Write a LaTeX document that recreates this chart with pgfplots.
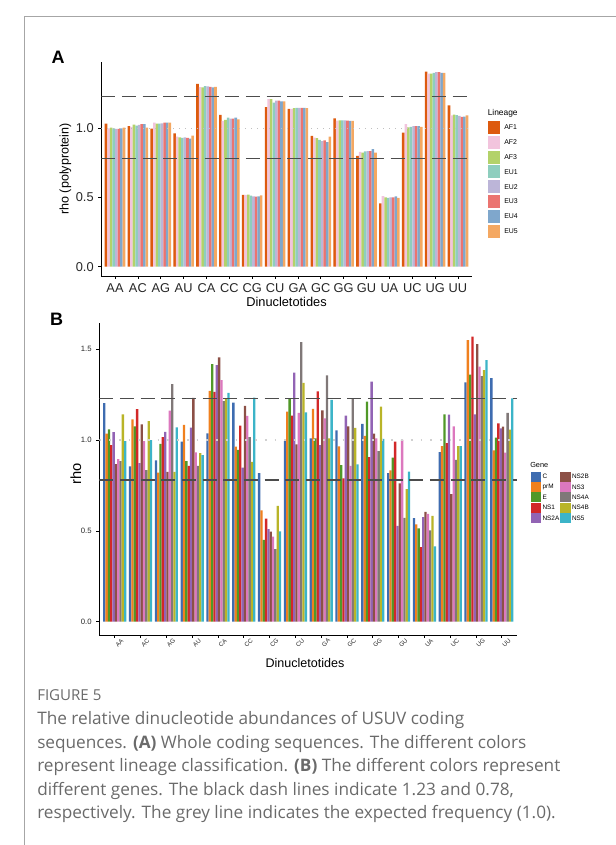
\documentclass[border=0pt]{standalone}
\usepackage{pgfplots}
\pgfplotsset{compat=1.18}
\usepackage{pgfplotstable}
\usepackage{fontspec}
\setmainfont{Liberation Sans}
\newfontfamily\capfont{Open Sans}

\definecolor{AF1}{HTML}{DD5A0E}
\definecolor{AF2}{HTML}{F2C4DD}
\definecolor{AF3}{HTML}{B3D26A}
\definecolor{EU1}{HTML}{8ECEBE}
\definecolor{EU2}{HTML}{BCB5D8}
\definecolor{EU3}{HTML}{EB7470}
\definecolor{EU4}{HTML}{7FA7CC}
\definecolor{EU5}{HTML}{F4A862}

\definecolor{gC}{HTML}{3E6CB0}
\definecolor{gprM}{HTML}{F0801E}
\definecolor{gE}{HTML}{509828}
\definecolor{gNS1}{HTML}{D22828}
\definecolor{gNS2A}{HTML}{9264B4}
\definecolor{gNS2B}{HTML}{8C5046}
\definecolor{gNS3}{HTML}{DC78BE}
\definecolor{gNS4A}{HTML}{807878}
\definecolor{gNS4B}{HTML}{B9B428}
\definecolor{gNS5}{HTML}{3CB4C8}
\definecolor{capgray}{HTML}{6A6A6A}

\pgfplotstableread{
x  AF1   AF2   AF3   EU1   EU2   EU3   EU4   EU5
0  1.034 1.000 1.005 1.000 0.995 0.995 1.000 1.005
1  1.015 1.010 1.027 1.020 1.025 1.030 1.030 1.005
2  0.998 1.040 1.034 1.034 1.035 1.040 1.040 1.040
3  0.964 0.940 0.935 0.930 0.935 0.930 0.925 0.947
4  1.320 1.297 1.295 1.305 1.303 1.300 1.295 1.300
5  1.096 1.053 1.060 1.077 1.070 1.070 1.077 1.065
6  0.518 0.518 0.520 0.513 0.508 0.506 0.508 0.515
7  1.152 1.210 1.210 1.185 1.200 1.200 1.195 1.195
8  1.140 1.140 1.145 1.147 1.147 1.147 1.147 1.145
9  0.945 0.932 0.928 0.916 0.908 0.913 0.900 0.940
10 1.072 1.055 1.057 1.057 1.057 1.055 1.053 1.053
11 0.800 0.830 0.824 0.833 0.835 0.835 0.850 0.824
12 0.458 0.510 0.500 0.497 0.500 0.500 0.508 0.497
13 0.969 1.030 1.007 1.010 1.015 1.015 1.015 1.010
14 1.410 1.395 1.395 1.400 1.405 1.405 1.400 1.400
15 1.166 1.094 1.099 1.095 1.090 1.082 1.085 1.093
}\dataA

\pgfplotstableread{
x  C     prM   E     NS1   NS2A  NS2B  NS3   NS4A  NS4B  NS5
0  1.203 1.035 1.059 0.972 1.043 0.867 0.894 0.884 1.141 0.994
1  0.855 1.114 1.075 1.170 0.872 1.086 0.994 0.834 1.104 0.999
2  0.888 0.821 0.978 1.015 1.045 0.824 1.161 1.308 0.824 1.070
3  0.991 1.083 0.884 0.857 1.068 1.231 0.932 0.857 0.927 0.917
4  1.037 1.270 1.417 1.264 1.412 1.455 1.330 1.214 1.229 1.259
5  1.206 0.963 0.945 1.079 0.848 1.187 1.132 1.015 0.879 1.233
6  0.817 0.613 0.450 0.567 0.510 0.495 0.468 0.400 0.637 0.497
7  0.994 1.156 1.229 1.134 1.371 0.976 1.149 1.538 1.314 1.152
8  1.009 1.171 1.009 1.268 0.972 1.163 1.119 1.356 1.009 1.220
9  1.053 0.965 0.862 0.789 1.134 1.075 0.857 1.226 1.066 0.866
10 1.088 1.022 1.211 0.905 1.321 1.035 1.009 0.939 1.183 1.006
11 0.817 0.833 0.903 0.991 0.527 0.761 1.000 0.572 0.730 0.826
12 0.570 0.536 0.513 0.410 0.576 0.605 0.594 0.503 0.583 0.415
13 0.933 0.966 1.141 0.982 1.140 0.702 1.075 0.890 0.966 0.966
14 1.317 1.550 1.360 1.569 1.141 1.528 1.404 1.352 1.385 1.439
15 1.341 0.943 1.013 1.092 1.064 1.073 0.930 1.149 1.057 1.229
}\dataB

\pgfplotsset{
  ggbase/.style={
    scale only axis,
    anchor=south west,
    xmin=-0.6, xmax=15.6,
    axis x line*=bottom, axis y line*=left,
    axis line style={-, black, line width=0.5pt},
    xtick={0,...,15},
    xticklabels={AA,AC,AG,AU,CA,CC,CG,CU,GA,GC,GG,GU,UA,UC,UG,UU},
    tick align=outside, major tick length=2.2pt,
    tick style={black, line width=0.5pt},
    minor tick num=0,
    /pgf/number format/assume math mode=true,
    yticklabel={\pgfmathprintnumber[fixed, fixed zerofill, precision=1]{\tick}},
  },
}

\begin{document}
\begin{tikzpicture}
\useasboundingbox (0,0) rectangle (462pt,-633.75pt);

% ---------------- Panel A ----------------
\begin{axis}[ggbase,
  at={(75.975pt,-207pt)},
  width=277.8pt, height=160.725pt,
  ymin=-0.0672, ymax=1.481,
  ytick={0,0.5,1},
  ticklabel style={font=\fontsize{9.6}{10}\selectfont, text=black!85},
]
\addplot[ybar, bar width=0.1125, bar shift=-0.39375, fill=AF1, draw=none] table[x=x,y=AF1]{\dataA};
\addplot[ybar, bar width=0.1125, bar shift=-0.28125, fill=AF2, draw=none] table[x=x,y=AF2]{\dataA};
\addplot[ybar, bar width=0.1125, bar shift=-0.16875, fill=AF3, draw=none] table[x=x,y=AF3]{\dataA};
\addplot[ybar, bar width=0.1125, bar shift=-0.05625, fill=EU1, draw=none] table[x=x,y=EU1]{\dataA};
\addplot[ybar, bar width=0.1125, bar shift=0.05625, fill=EU2, draw=none] table[x=x,y=EU2]{\dataA};
\addplot[ybar, bar width=0.1125, bar shift=0.16875, fill=EU3, draw=none] table[x=x,y=EU3]{\dataA};
\addplot[ybar, bar width=0.1125, bar shift=0.28125, fill=EU4, draw=none] table[x=x,y=EU4]{\dataA};
\addplot[ybar, bar width=0.1125, bar shift=0.39375, fill=EU5, draw=none] table[x=x,y=EU5]{\dataA};
\addplot[black!70, line width=1pt, dash pattern=on 10.5pt off 5pt] coordinates {(-0.6,1.23) (15.6,1.23)};
\addplot[black!70, line width=1pt, dash pattern=on 10.5pt off 5pt] coordinates {(-0.6,0.78) (15.6,0.78)};
\addplot[black!25, line width=0.6pt, dash pattern=on 0.8pt off 3.7pt] coordinates {(-0.6,1) (15.6,1)};
\end{axis}

% ---------------- Panel B ----------------
\begin{axis}[ggbase,
  at={(74.475pt,-476.25pt)},
  width=313.5pt, height=233.775pt,
  ymin=-0.0732, ymax=1.642,
  ytick={0,0.5,1,1.5},
  yticklabel style={font=\fontsize{5.8}{6}\selectfont, text=black!85},
  xticklabel style={font=\fontsize{4.6}{5}\selectfont, text=black!85, rotate=45, anchor=center, yshift=-5pt},
]
\addplot[ybar, bar width=0.09, bar shift=-0.405, fill=gC, draw=none] table[x=x,y=C]{\dataB};
\addplot[ybar, bar width=0.09, bar shift=-0.315, fill=gprM, draw=none] table[x=x,y=prM]{\dataB};
\addplot[ybar, bar width=0.09, bar shift=-0.225, fill=gE, draw=none] table[x=x,y=E]{\dataB};
\addplot[ybar, bar width=0.09, bar shift=-0.135, fill=gNS1, draw=none] table[x=x,y=NS1]{\dataB};
\addplot[ybar, bar width=0.09, bar shift=-0.045, fill=gNS2A, draw=none] table[x=x,y=NS2A]{\dataB};
\addplot[ybar, bar width=0.09, bar shift=0.045, fill=gNS2B, draw=none] table[x=x,y=NS2B]{\dataB};
\addplot[ybar, bar width=0.09, bar shift=0.135, fill=gNS3, draw=none] table[x=x,y=NS3]{\dataB};
\addplot[ybar, bar width=0.09, bar shift=0.225, fill=gNS4A, draw=none] table[x=x,y=NS4A]{\dataB};
\addplot[ybar, bar width=0.09, bar shift=0.315, fill=gNS4B, draw=none] table[x=x,y=NS4B]{\dataB};
\addplot[ybar, bar width=0.09, bar shift=0.405, fill=gNS5, draw=none] table[x=x,y=NS5]{\dataB};
\addplot[black!70, line width=1pt, dash pattern=on 10.5pt off 5pt] coordinates {(-0.6,1.23) (15.6,1.23)};
\addplot[black!70, line width=1pt, dash pattern=on 10.5pt off 5pt] coordinates {(-0.6,0.78) (15.6,0.78)};
\addplot[black!18, line width=1.3pt, dash pattern=on 1.3pt off 6pt] coordinates {(-0.6,1) (15.6,1)};
\end{axis}

% ---------------- decorations in pixel coordinates ----------------
\begin{scope}[x=0.75pt, y=-0.75pt]
\draw[black!35, line width=0.75pt] (24,845) -- (24,17) -- (616,17);
% Panel labels
\node[font=\fontsize{13.5}{14}\selectfont\bfseries] at (58,57.5) {A};
\node[font=\fontsize{13.5}{14}\selectfont\bfseries] at (56.7,319.3) {B};
% Axis titles A
\node[font=\fontsize{9.4}{10}\selectfont, rotate=90] at (65.5,169) {rho (polyprotein)};
\node[font=\fontsize{9.6}{10}\selectfont] at (286.5,302) {Dinucletotides};
% Axis titles B
\node[font=\fontsize{11}{12}\selectfont, rotate=90] at (76,474) {rho};
\node[font=\fontsize{9.4}{10}\selectfont] at (305,663) {Dinucletotides};
% Legend A
\node[anchor=west, font=\fontsize{6.3}{7}\selectfont, inner sep=0pt] at (487.5,113) {Lineage};
\foreach \n [count=\i from 0] in {AF1,AF2,AF3,EU1,EU2,EU3,EU4,EU5} {
  \fill[\n] (487.7,{121+14.8*\i}) rectangle (500.3,{134+14.8*\i});
  \node[anchor=west, font=\fontsize{5.2}{6}\selectfont, inner sep=0pt] at (504,{127.5+14.8*\i}) {\n};
}
% Legend B
\node[anchor=west, font=\fontsize{5.5}{6}\selectfont, inner sep=0pt] at (530,465) {Gene};
\foreach \n/\c [count=\i from 0] in {C/gC,prM/gprM,E/gE,NS1/gNS1,NS2A/gNS2A} {
  \fill[\c] (530.7,{471.7+10.3*\i}) rectangle (541,{481.7+10.3*\i});
  \node[anchor=west, font=\fontsize{4.8}{5}\selectfont, inner sep=0pt] at (542.3,{476.7+10.3*\i}) {\n};
}
\foreach \n/\c [count=\i from 0] in {NS2B/gNS2B,NS3/gNS3,NS4A/gNS4A,NS4B/gNS4B,NS5/gNS5} {
  \fill[\c] (560,{471.7+10.3*\i}) rectangle (570.5,{481.7+10.3*\i});
  \node[anchor=west, font=\fontsize{4.8}{5}\selectfont, inner sep=0pt] at (571.8,{476.7+10.3*\i}) {\n};
}
% Caption
\node[anchor=base west, inner sep=0pt, font=\capfont\fontsize{11.3}{12}\selectfont, text=capgray] at (37,700) {FIGURE 5};
\begin{scope}[every node/.style={anchor=base west, inner sep=0pt, font=\capfont\fontsize{12.9}{14}\selectfont, text=capgray}]
\node at (37,724) {The relative dinucleotide abundances of USUV coding};
\node at (37,748) {sequences. {\bfseries (A)} Whole coding sequences. The different colors};
\node at (37,771) {represent lineage classification. {\bfseries (B)} The different colors represent};
\node at (37,795) {different genes. The black dash lines indicate 1.23 and 0.78,};
\node at (37,818) {respectively. The grey line indicates the expected frequency (1.0).};
\end{scope}
\end{scope}
\end{tikzpicture}
\end{document}
